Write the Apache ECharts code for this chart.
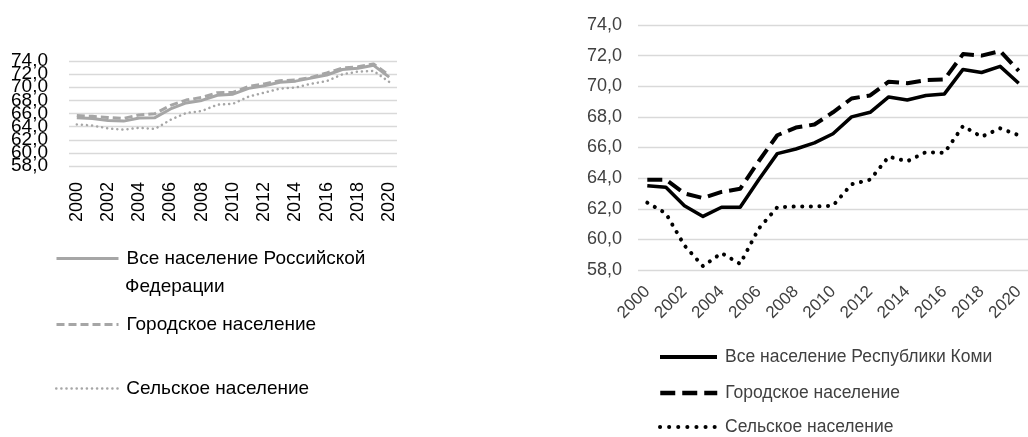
<!DOCTYPE html>
<html><head><meta charset="utf-8">
<script src="https://cdn.jsdelivr.net/npm/echarts@6/dist/echarts.min.js"></script>
<style>html,body{margin:0;padding:0;background:#fff;}#c{width:1028px;height:437px;}</style>
</head><body><div id="c"></div>
<script>
const years = ['2000','2001','2002','2003','2004','2005','2006','2007','2008','2009','2010','2011','2012','2013','2014','2015','2016','2017','2018','2019','2020'];
const yTicks = [58, 74, 2];

const rfNames = ['Все население Российской Федерации', 'Городское население', 'Сельское население'];
const rfTotal = [65.34,65.23,64.95,64.84,65.31,65.37,66.69,67.61,67.99,68.78,68.94,69.83,70.24,70.77,70.93,71.39,71.87,72.70,72.91,73.34,71.54];
const rfUrban = [65.69,65.57,65.40,65.26,65.79,65.97,67.23,68.05,68.44,69.18,69.21,70.11,70.51,71.00,71.10,71.50,72.17,72.93,73.11,73.55,71.83];
const rfRural = [64.34,64.17,63.72,63.54,63.82,63.64,65.04,66.07,66.38,67.34,67.48,68.58,69.18,69.79,69.96,70.53,70.93,71.96,72.39,72.50,70.81];

const komiNames = ['Все население Республики Коми', 'Городское население ', 'Сельское население '];
const komiTotal = [63.5,63.4,62.2,61.5,62.1,62.1,63.9,65.6,65.9,66.3,66.9,68.0,68.3,69.3,69.1,69.4,69.5,71.1,70.9,71.3,70.2];
const komiUrban = [63.9,63.9,63.0,62.7,63.1,63.3,65.1,66.8,67.3,67.5,68.3,69.2,69.4,70.3,70.2,70.4,70.45,72.1,72.0,72.3,71.0];
const komiRural = [62.4,61.7,59.6,58.25,59.1,58.4,60.7,62.1,62.15,62.15,62.2,63.6,63.9,65.4,65.1,65.7,65.65,67.4,66.7,67.25,66.8];

const FONT = 'Liberation Sans';
const chart = echarts.init(document.getElementById('c'));
const fmt = v => v.toFixed(1).replace('.', ',');
const GRAY = '#A6A6A6';

function yAx(idx, color, margin, size, formatter, grid){
  return {gridIndex: idx, type:'value', position:'left', offset:0, min:yTicks[0], max:yTicks[1], interval:yTicks[2],
    axisLine:{show:false}, axisTick:{show:false},
    splitLine:{show:grid, lineStyle:{color:'#D9D9D9', width:1.3}},
    axisLabel:{formatter:formatter, color:color, fontFamily:FONT, fontSize:size, margin:margin,
      showMinLabel:true, showMaxLabel:true, hideOverlap:false}};
}
function xAx(idx, rotate, margin, color, size){
  return {gridIndex: idx, type:'category', data:years, boundaryGap:true,
    axisLine:{show:false}, axisTick:{show:false},
    axisLabel:{interval:1, rotate:rotate, margin:margin, color:color, fontFamily:FONT, fontSize:size, hideOverlap:false}};
}
function ser(name, data, idx, yIdx, color, width, type, cap){
  return {name:name, type:'line', data:data, xAxisIndex:idx, yAxisIndex:yIdx, symbol:'none', showSymbol:false,
    lineStyle:{color:color, width:width, type:type, cap:cap||'butt', join:'round'}, itemStyle:{color:color}};
}
function leg(name, left, center, w, textColor, size, ls, extra){
  return Object.assign({data:[name], left:left, top:center-10, itemWidth:w, itemHeight:20, orient:'vertical',
    selectedMode:false, padding:0,
    itemStyle:{opacity:0},
    lineStyle:ls,
    textStyle:{color:textColor, fontFamily:FONT, fontSize:size, padding:[0,0,0,3]}}, extra||{});
}
const fmtEven = v => ((v - yTicks[0]) % 4 === 0 ? fmt(v) : '');
const fmtOdd = v => ((v - yTicks[0]) % 4 !== 0 ? fmt(v) : '');

chart.setOption({
  animation:false,
  backgroundColor:'#fff',
  grid:[
    {left:69, right:631, top:61, bottom:271},
    {left:638, right:-12, top:25, bottom:167}
  ],
  xAxis:[xAx(0, 90, 16, '#000', 18), xAx(1, 45, 19, '#404040', 17)],
  yAxis:[
    yAx(0, '#000', 21, 19, fmtEven, true),
    yAx(1, '#404040', 16, 18, fmt, true),
    yAx(0, '#000', 21, 19, fmtOdd, false)
  ],
  legend:[
    leg(rfNames[0], 55, 259, 62, '#000', 19, {width:3, color:GRAY, type:'solid'}, {formatter: n => 'Все население Российской'}),
    leg(rfNames[1], 55, 325, 62, '#000', 19, {width:3, color:GRAY, type:[8,4]}),
    leg(rfNames[2], 55, 389, 62, '#000', 19, {width:2.5, color:GRAY, type:[0.1,5], cap:'round'}),
    leg(komiNames[0], 658, 358, 57, '#404040', 17.5, {width:4, color:'#000', type:'solid'}),
    leg(komiNames[1], 658, 394, 57, '#404040', 17.5, {width:4.5, color:'#000', type:[15,7]}),
    leg(komiNames[2], 658, 428, 57, '#404040', 17.5, {width:4, color:'#000', type:[0.1,9], cap:'round'})
  ],
  graphic:[
    {type:'text', left:125, top:277, style:{text:'Федерации', fill:'#000', font:'19px "Liberation Sans"'}}
  ],
  series:[
    ser(rfNames[0], rfTotal, 0, 0, GRAY, 3, 'solid'),
    ser(rfNames[1], rfUrban, 0, 0, GRAY, 3, [8,4]),
    ser(rfNames[2], rfRural, 0, 0, GRAY, 2.5, [0.1,5], 'round'),
    ser(komiNames[0], komiTotal, 1, 1, '#000', 3.5, 'solid'),
    ser(komiNames[1], komiUrban, 1, 1, '#000', 4, [15,7]),
    ser(komiNames[2], komiRural, 1, 1, '#000', 4, [0.1,8.5], 'round')
  ]
});
</script></body></html>
